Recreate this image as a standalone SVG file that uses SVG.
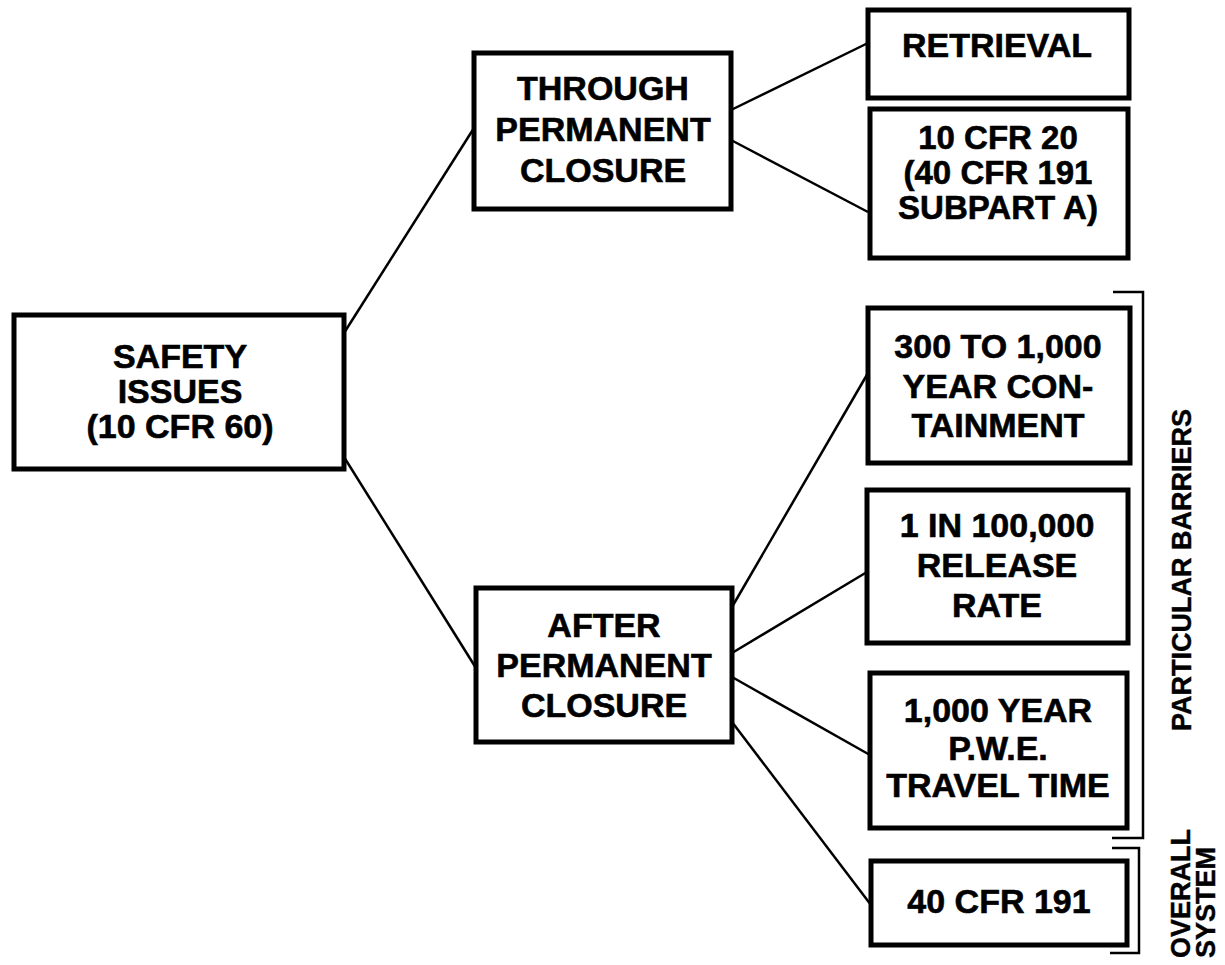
<svg xmlns="http://www.w3.org/2000/svg" width="1225" height="965" viewBox="0 0 1225 965">
<style>
.box{fill:#fff;stroke:#000;stroke-width:5}
.t{font-family:"Liberation Sans",Arial,sans-serif;font-weight:bold;font-size:34px;text-anchor:middle;fill:#000;stroke:#000;stroke-width:0.6}
.t2{font-size:33px}
.s{font-family:"Liberation Sans",Arial,sans-serif;font-weight:bold;font-size:27px;fill:#000;stroke:#000;stroke-width:0.4}
.c{stroke:#000;stroke-width:2.5;fill:none}
</style>
<rect width="1225" height="965" fill="#fff"/>
<g id="connectors">
<line class="c" x1="344" y1="333" x2="474" y2="128"/>
<line class="c" x1="344" y1="457" x2="476" y2="668"/>
<line class="c" x1="731" y1="110" x2="868" y2="43"/>
<line class="c" x1="731" y1="140" x2="868" y2="212"/>
<line class="c" x1="732" y1="607" x2="868" y2="373"/>
<line class="c" x1="732" y1="653" x2="867" y2="572"/>
<line class="c" x1="732" y1="677" x2="870" y2="755"/>
<line class="c" x1="732" y1="722" x2="871" y2="905"/>
<path class="c" d="M1113,292 H1143 V838 H1112"/>
<path class="c" d="M1112,848 H1139 V953 H1110"/>
</g>
<g id="safety">
<rect class="box" x="14" y="315" width="330" height="154"/>
<text class="t" x="180" y="368">SAFETY</text>
<text class="t" x="180" y="403">ISSUES</text>
<text class="t" x="180" y="438">(10 CFR 60)</text>
</g>
<g id="through">
<rect class="box" x="474" y="53" width="257" height="156"/>
<text class="t" x="603" y="100">THROUGH</text>
<text class="t" x="603" y="141">PERMANENT</text>
<text class="t" x="603" y="182">CLOSURE</text>
</g>
<g id="after">
<rect class="box" x="476" y="588" width="256" height="154"/>
<text class="t" x="604" y="637">AFTER</text>
<text class="t" x="604" y="677">PERMANENT</text>
<text class="t" x="604" y="717">CLOSURE</text>
</g>
<g id="retrieval">
<rect class="box" x="868" y="10" width="261" height="88"/>
<text class="t" x="997" y="57">RETRIEVAL</text>
</g>
<g id="cfr20">
<rect class="box" x="870" y="109" width="258" height="149"/>
<text class="t t2" x="998" y="149">10 CFR 20</text>
<text class="t t2" x="998" y="184">(40 CFR 191</text>
<text class="t t2" x="998" y="219">SUBPART A)</text>
</g>
<g id="containment">
<rect class="box" x="868" y="308" width="262" height="155"/>
<text class="t" x="998" y="358">300 TO 1,000</text>
<text class="t" x="998" y="398">YEAR CON-</text>
<text class="t" x="998" y="437">TAINMENT</text>
</g>
<g id="release">
<rect class="box" x="867" y="490" width="261" height="153"/>
<text class="t" x="997" y="537">1 IN 100,000</text>
<text class="t" x="997" y="577">RELEASE</text>
<text class="t" x="997" y="617">RATE</text>
</g>
<g id="travel">
<rect class="box" x="870" y="673" width="257" height="155"/>
<text class="t" x="998" y="722">1,000 YEAR</text>
<text class="t" x="998" y="760">P.W.E.</text>
<text class="t" x="998" y="797">TRAVEL TIME</text>
</g>
<g id="cfr191">
<rect class="box" x="871" y="861" width="256" height="84"/>
<text class="t" x="999" y="913">40 CFR 191</text>
</g>
<g id="labels">
<text class="s" text-anchor="middle" transform="translate(1191,570) rotate(-90)">PARTICULAR BARRIERS</text>
<text class="s" transform="translate(1190,958) rotate(-90)">OVERALL</text>
<text class="s" transform="translate(1215,958) rotate(-90)">SYSTEM</text>
</g>
</svg>
